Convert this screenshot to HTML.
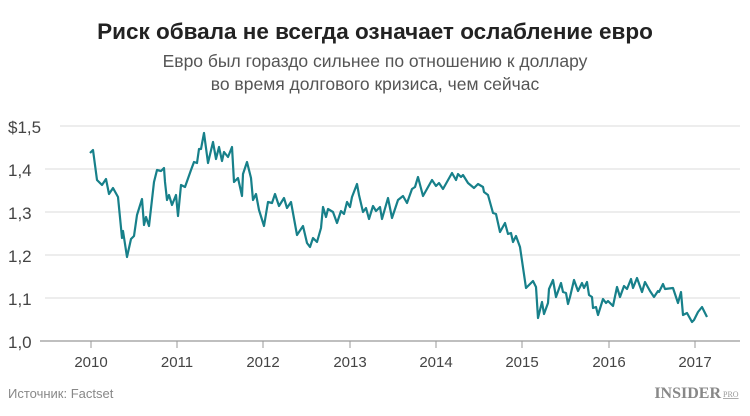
<!DOCTYPE html>
<html><head><meta charset="utf-8"><style>
body{margin:0;background:#fff;width:750px;height:411px;overflow:hidden;font-family:"Liberation Sans",sans-serif}
</style></head><body>
<svg width="750" height="411" xmlns="http://www.w3.org/2000/svg" font-family="Liberation Sans, sans-serif">
<text x="375" y="39" text-anchor="middle" font-size="22.5" font-weight="bold" fill="#222">Риск обвала не всегда означает ослабление евро</text>
<text x="375" y="67" text-anchor="middle" font-size="17.5" fill="#555">Евро был гораздо сильнее по отношению к доллару</text>
<text x="375" y="90" text-anchor="middle" font-size="17.5" fill="#555">во время долгового кризиса, чем сейчас</text>
<g stroke="#e2e2e2" stroke-width="1.2">
<line x1="60" x2="740" y1="126" y2="126"/><line x1="45" x2="740" y1="169" y2="169"/><line x1="45" x2="740" y1="212" y2="212"/><line x1="45" x2="740" y1="255" y2="255"/><line x1="45" x2="740" y1="298" y2="298"/>
</g>
<line x1="40" x2="740" y1="341" y2="341" stroke="#999" stroke-width="1.2"/>
<g stroke="#999" stroke-width="1"><line x1="91" x2="91" y1="341" y2="348"/><line x1="177" x2="177" y1="341" y2="348"/><line x1="263" x2="263" y1="341" y2="348"/><line x1="350" x2="350" y1="341" y2="348"/><line x1="436" x2="436" y1="341" y2="348"/><line x1="522" x2="522" y1="341" y2="348"/><line x1="609" x2="609" y1="341" y2="348"/><line x1="695" x2="695" y1="341" y2="348"/></g>
<g font-size="17" fill="#444"><text x="8" y="133">$1,5</text><text x="8" y="176">1,4</text><text x="8" y="219">1,3</text><text x="8" y="262">1,2</text><text x="8" y="305">1,1</text><text x="8" y="348">1,0</text></g>
<g font-size="15" fill="#444" text-anchor="middle"><text x="91" y="367">2010</text><text x="177" y="367">2011</text><text x="263" y="367">2012</text><text x="350" y="367">2013</text><text x="436" y="367">2014</text><text x="522" y="367">2015</text><text x="609" y="367">2016</text><text x="695" y="367">2017</text></g>
<text x="8" y="398" font-size="13" fill="#888">Источник: Factset</text>
<text x="721" y="398" font-size="16" font-weight="bold" fill="#888" text-anchor="end" font-family="Liberation Serif, serif">INSIDER</text>
<text x="723" y="397" font-size="8" fill="#999" font-family="Liberation Serif, serif" text-decoration="underline">PRO</text>
<polyline fill="none" stroke="#17808a" stroke-width="2.2" stroke-linejoin="round" points="90,153 93,150 97,180 102,185 106,179 109,194 113,188 118,197 122,238 123,231 127,257 131,239 134,236 137,215 142,199 144,225 146,217 149,226 154,182 157,170 161,171 164,168 165,182 167,200 169,195 172,205 176,195 178,216 181,185 185,187 191,170 194,162 197,163 199,149 201,149 204,133 208,163 213,142 216,159 219,147 222,161 224,152 228,157 232,147 234,182 238,178 242,196 243,174 247,162 251,178 253,200 256,194 259,210 264,226 268,202 272,203 275,194 279,206 284,198 287,208 291,202 297,235 303,226 307,243 310,247 313,238 317,242 321,228 323,207 326,217 328,209 333,212 337,223 341,211 344,214 347,202 350,207 352,197 357,184 359,195 363,212 366,208 369,219 373,206 376,211 380,207 382,219 388,198 392,218 398,200 403,196 407,203 412,189 415,187 418,177 423,196 432,180 436,186 439,183 443,189 452,173 456,180 458,174 461,177 463,175 468,183 474,188 478,184 483,187 484,192 488,195 493,213 496,214 500,232 505,223 508,234 511,233 513,242 516,236 520,247 526,288 533,281 536,287 538,318 542,302 544,314 548,303 549,289 553,280 556,297 561,283 563,292 566,293 568,304 570,297 574,280 578,291 582,283 584,288 587,282 589,295 592,297 593,308 596,307 598,315 603,299 606,303 608,301 613,306 617,287 620,297 624,286 627,289 631,279 633,288 637,278 642,292 645,282 650,291 654,297 658,291 659,292 663,284 665,289 673,288 678,303 681,292 683,315 687,313 692,322 694,320 698,312 702,307 707,317"/>
</svg>
</body></html>
